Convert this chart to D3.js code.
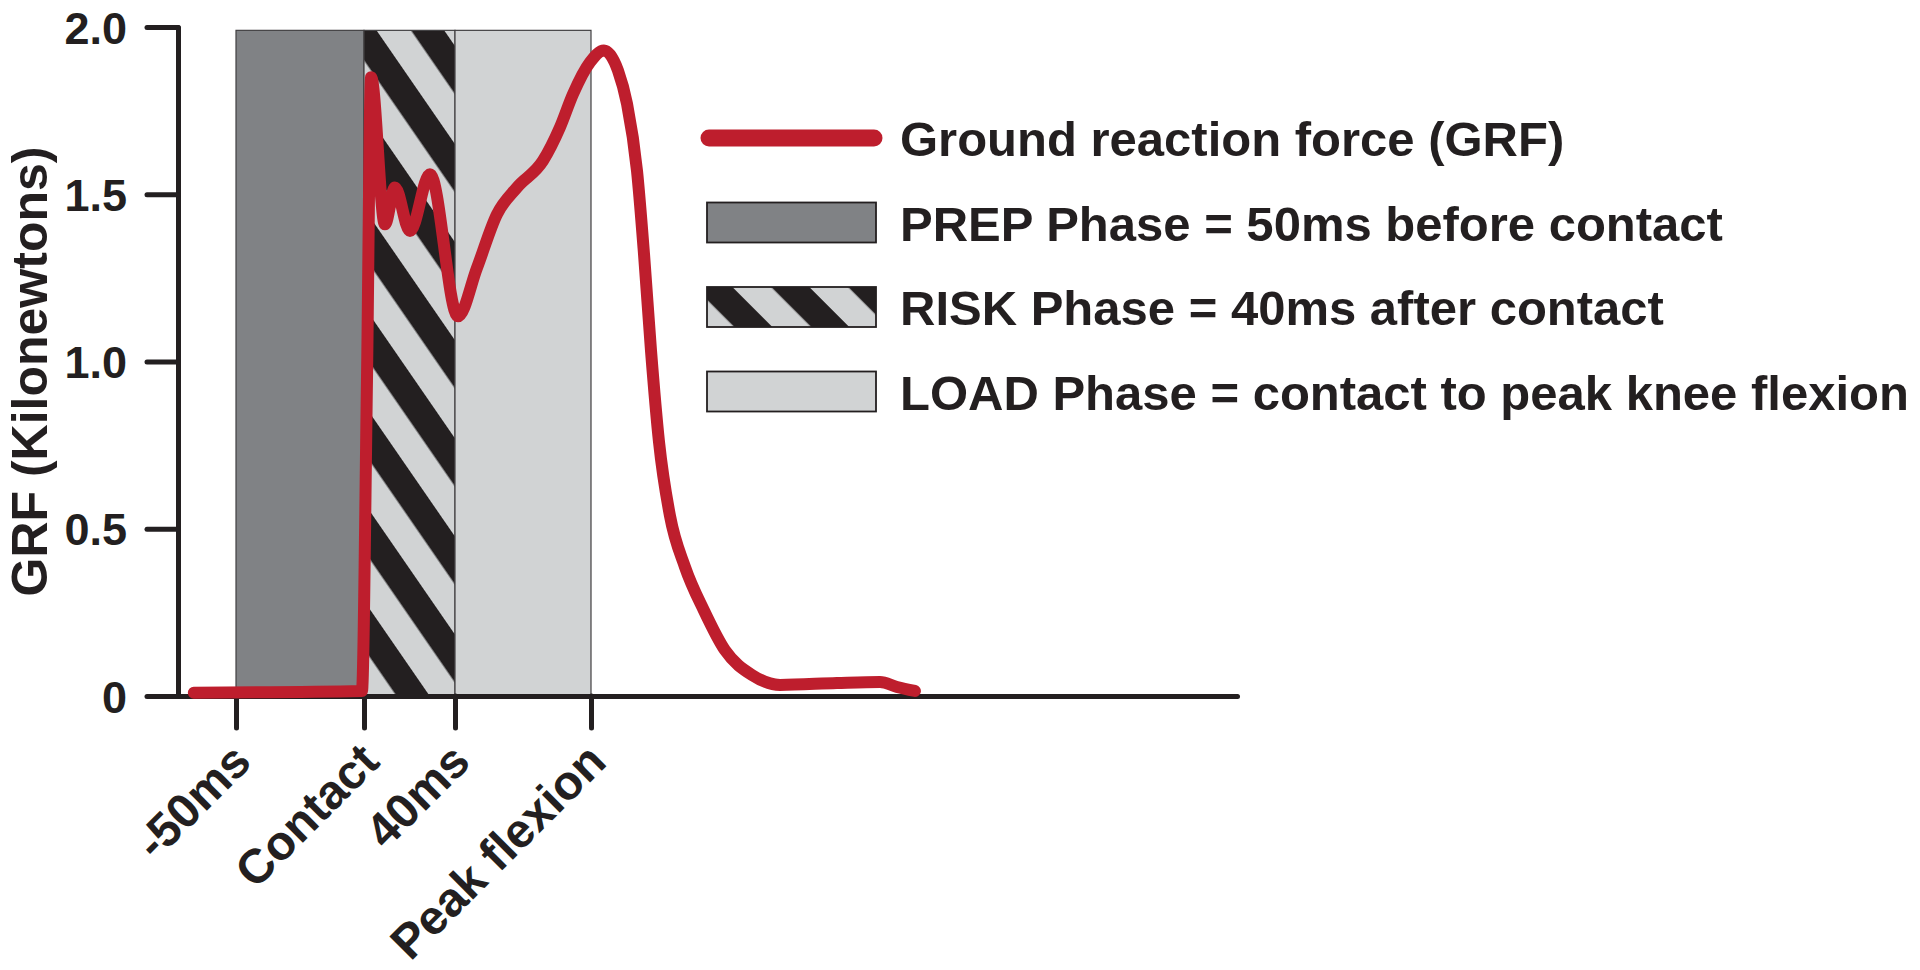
<!DOCTYPE html>
<meta charset="utf-8">
<style>

body {
  margin: 0;
  background: #fff;
}

text {
  font-family: "Liberation Sans", Arial, Helvetica, sans-serif;
  font-weight: bold;
  fill: #231f20;
}

.axis path,
.axis line {
  stroke: #231f20;
  stroke-width: 5;
  stroke-linecap: round;
}

.grf {
  fill: none;
  stroke: #be1e2d;
  stroke-width: 12;
  stroke-linejoin: round;
  stroke-linecap: round;
}

</style>
<svg width="1920" height="970"></svg>
<script src="https://d3js.org/d3.v7.min.js"></script>
<script>

// GRF trace (time in ms relative to contact, force in kN)
var timeMs = [-66, -0.8, 1.3, 3.1, 9.2, 13.6, 20.2, 29.0, 41.3, 49.7, 58.5, 67.3, 78.8, 86.3, 92.1,
              99.6, 105.7, 111.9, 115.9, 120.3, 123.4, 126.5, 130.0, 134.8, 141.5, 149.8, 159.1,
              171.0, 183.4, 208.5, 227.5, 235.0, 242.9];
var grfKn  = [0.01, 0.015, 0.94, 1.85, 1.41, 1.52, 1.39, 1.56, 1.135, 1.28, 1.44, 1.52, 1.60, 1.70, 1.80,
              1.895, 1.93, 1.87, 1.77, 1.57, 1.32, 1.03, 0.76, 0.54, 0.385, 0.256, 0.137,
              0.063, 0.033, 0.039, 0.042, 0.027, 0.015];

var yTicks = [0, 0.5, 1.0, 1.5, 2.0];
var yTickLabels = ["0", "0.5", "1.0", "1.5", "2.0"];
var xTicks = [-50, 0, 40, 100];
var xTickLabels = ["-50ms", "Contact", "40ms", "Peak flexion"];

var phaseNames = ["PREP", "RISK", "LOAD"];
var phaseStart = [-50, 0, 40];
var phaseEnd = [0, 40, 100];
var phaseTop = 1.99;

var legendLabels = [
  "Ground reaction force (GRF)",
  "PREP Phase = 50ms before contact",
  "RISK Phase = 40ms after contact",
  "LOAD Phase = contact to peak knee flexion"
];

var svg = d3.select("svg"),
    margin = {top: 27, right: 683, bottom: 274, left: 178},
    width = +svg.attr("width") - margin.left - margin.right,
    height = +svg.attr("height") - margin.top - margin.bottom;

// the time axis is schematic, so the scale is piecewise between the marked events
var x = d3.scaleLinear()
    .domain([-72, -50, 0, 40, 100, 385])
    .range([0, 58, 186, 277, 413, width]);

var y = d3.scaleLinear()
    .domain([0, 2])
    .range([height, 0]);

var fills = {PREP: "#808285", RISK: "url(#riskStripes)", LOAD: "#d1d3d4"},
    legendFills = {PREP: "#808285", RISK: "url(#riskStripesKey)", LOAD: "#d1d3d4"};

var defs = svg.append("defs");

function stripes(id, ox, oy, angle, period, band) {
  var p = defs.append("pattern")
      .attr("id", id)
      .attr("patternUnits", "userSpaceOnUse")
      .attr("width", 20)
      .attr("height", period)
      .attr("patternTransform", "translate(" + ox + "," + oy + ") rotate(" + angle + ")");
  p.append("rect").attr("width", 20).attr("height", period).attr("fill", "#d1d3d4");
  p.append("rect").attr("width", 20).attr("height", band).attr("fill", "#231f20");
}

stripes("riskStripes", margin.left + x(0), margin.top + y(1.94), 55.4, 55.7, 27.3);
stripes("riskStripesKey", 795, 288, 45, 54.4, 27);

var g = svg.append("g")
    .attr("transform", "translate(" + margin.left + "," + margin.top + ")");

var phases = phaseNames.map(function(n, i) {
  return {name: n, start: phaseStart[i], end: phaseEnd[i]};
});

g.selectAll(".phase")
  .data(phases)
  .enter().append("rect")
    .attr("class", "phase")
    .attr("x", function(d) { return x(d.start); })
    .attr("y", y(phaseTop))
    .attr("width", function(d) { return x(d.end) - x(d.start); })
    .attr("height", y(0) - y(phaseTop))
    .attr("fill", function(d) { return fills[d.name]; })
    .attr("stroke", "#414042")
    .attr("stroke-width", 1.2);

g.append("g")
    .attr("class", "axis axis--x")
    .attr("transform", "translate(0," + height + ")")
    .call(d3.axisBottom(x)
      .tickValues(xTicks)
      .tickSize(32)
      .tickSizeOuter(0)
      .tickFormat(function(d, i) { return xTickLabels[i]; }))
  .call(function(a) {
    a.selectAll("text")
      .attr("x", 0)
      .attr("y", 0)
      .attr("dy", 0)
      .attr("transform", "translate(17,68) rotate(-45)")
      .style("text-anchor", "end")
      .style("font-size", "48px");
  });

g.append("g")
    .attr("class", "axis axis--y")
    .call(d3.axisLeft(y)
      .tickValues(yTicks)
      .tickSize(31)
      .tickSizeOuter(0)
      .tickPadding(20)
      .tickFormat(function(d, i) { return yTickLabels[i]; }))
  .call(function(a) {
    a.selectAll("text")
      .attr("dy", "0.36em")
      .style("font-size", "45px");
  });

svg.selectAll(".axis text").attr("fill", "#231f20");
svg.selectAll(".axis").attr("font-family", null).attr("font-size", null);

svg.append("text")
    .attr("transform", "translate(47," + (margin.top + y(0.97)) + ") rotate(-90)")
    .attr("text-anchor", "middle")
    .style("font-size", "50px")
    .text("GRF (Kilonewtons)");

var trace = timeMs.map(function(t, i) { return {t: t, v: grfKn[i]}; });

var line = d3.line()
    .x(function(d) { return x(d.t); })
    .y(function(d) { return y(d.v); })
    .curve(d3.curveMonotoneX);

g.append("path")
    .datum(trace)
    .attr("class", "grf")
    .attr("d", line);

// legend
var legend = svg.append("g")
    .attr("transform", "translate(707,138)");

var rowStep = 84.5;

var rows = legend.selectAll(".row")
  .data(legendLabels)
  .enter().append("g")
    .attr("class", "row")
    .attr("transform", function(d, i) { return "translate(0," + i * rowStep + ")"; });

rows.filter(function(d, i) { return i === 0; })
  .append("line")
    .attr("x1", 2)
    .attr("x2", 167)
    .attr("stroke", "#be1e2d")
    .attr("stroke-width", 17)
    .attr("stroke-linecap", "round");

rows.filter(function(d, i) { return i > 0; })
  .append("rect")
    .attr("x", 0)
    .attr("y", -20)
    .attr("width", 169)
    .attr("height", 40)
    .attr("fill", function(d, i) { return legendFills[phaseNames[i]]; })
    .attr("stroke", "#231f20")
    .attr("stroke-width", 1.8);

rows.append("text")
    .attr("x", 193)
    .attr("y", 18)
    .style("font-size", "49px")
    .text(function(d) { return d; });

</script>
